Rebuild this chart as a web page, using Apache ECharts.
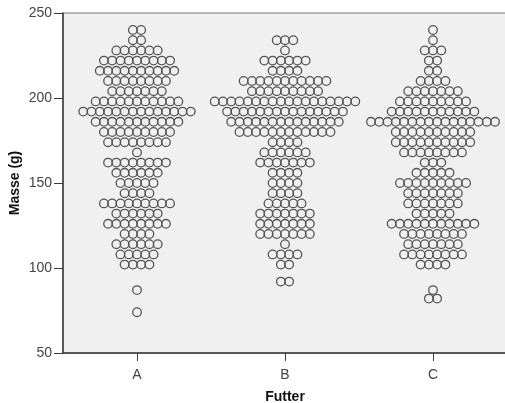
<!DOCTYPE html>
<html>
<head>
<meta charset="utf-8">
<script src="https://cdn.jsdelivr.net/npm/echarts@6/dist/echarts.min.js"></script>
<style>
  html, body { margin: 0; padding: 0; background: #ffffff; }
  #chart { width: 505px; height: 403px; }
</style>
</head>
<body>
<div id="chart"></div>
<script>
// Dot plot of body mass (g) per feed group: each row is a bin value with its dot count.
const categories = ['A', 'B', 'C'];
const yTicks = [50, 100, 150, 200, 250];

const massA  = [240, 234, 228, 222, 216, 210, 204, 198, 192, 186, 180, 174, 168, 162, 156, 150, 144, 138, 132, 126, 120, 114, 108, 102, 87, 74];
const countA = [  2,   2,   6,   9,  10,   8,   7,  11,  14,  11,   9,   8,   1,   8,   6,   5,   4,   9,   6,   8,   4,   6,   5,   4,  1,  1];

const massB  = [234, 228, 222, 216, 210, 204, 198, 192, 186, 180, 174, 168, 162, 156, 150, 144, 138, 132, 126, 120, 114, 108, 102, 92];
const countB = [  3,   1,   6,   4,  11,   9,  18,  15,  14,  12,   4,   6,   7,   4,   4,   4,   5,   7,   7,   7,   1,   4,   2,  2];

const massC  = [240, 234, 228, 222, 216, 210, 204, 198, 192, 186, 180, 174, 168, 162, 156, 150, 144, 138, 132, 126, 120, 114, 108, 102, 87, 82];
const countC = [  1,   1,   3,   2,   2,   4,   7,   9,  11,  16,  10,  10,   8,   3,   5,   9,   7,   7,   5,  11,   8,   7,   8,   4,  1,  2];

const DOT_STEP = 8.27;   // horizontal pitch of dots within a row (px)
const FONT = 'Liberation Sans, Arial, sans-serif';

function buildDots(catIndex, masses, counts) {
  const out = [];
  masses.forEach((m, i) => {
    const n = counts[i];
    for (let k = 0; k < n; k++) {
      out.push({
        value: [catIndex, m],
        symbolOffset: [(k - (n - 1) / 2) * DOT_STEP, 0]
      });
    }
  });
  return out;
}

const dots = [].concat(
  buildDots(0, massA, countA),
  buildDots(1, massB, countB),
  buildDots(2, massC, countC)
);

const chart = echarts.init(document.getElementById('chart'), null, { renderer: 'canvas' });
chart.setOption({
  animation: false,
  backgroundColor: '#ffffff',
  grid: {
    left: 63, top: 13, width: 444, height: 340,
    outerBoundsMode: 'none',
    containLabel: false,
    show: true,
    backgroundColor: '#f0f0f0',
    borderColor: '#7a7a7a',
    borderWidth: 1
  },
  xAxis: {
    type: 'category',
    data: categories,
    boundaryGap: true,
    name: 'Futter',
    nameLocation: 'middle',
    nameGap: 37,
    nameMoveOverlap: false,
    nameTextStyle: { fontFamily: FONT, fontSize: 14, fontWeight: 'bold', color: '#111' },
    axisLine: { show: true, lineStyle: { color: '#3a3a3a', width: 1.5 } },
    axisTick: { show: true, alignWithLabel: true, length: 8, lineStyle: { color: '#3a3a3a', width: 1 } },
    axisLabel: { margin: 15, fontFamily: FONT, fontSize: 14, color: '#444' },
    splitLine: { show: false }
  },
  yAxis: {
    type: 'value',
    min: yTicks[0],
    max: yTicks[yTicks.length - 1],
    interval: 50,
    name: 'Masse (g)',
    nameLocation: 'middle',
    nameRotate: 90,
    nameGap: 41,
    nameMoveOverlap: false,
    nameTextStyle: { fontFamily: FONT, fontSize: 14, fontWeight: 'bold', color: '#111' },
    axisLine: { show: true, lineStyle: { color: '#3a3a3a', width: 1.5 } },
    axisTick: { show: true, length: 9, lineStyle: { color: '#3a3a3a', width: 1 } },
    axisLabel: { margin: 11, fontFamily: FONT, fontSize: 14, color: '#444' },
    splitLine: { show: false }
  },
  series: [{
    type: 'scatter',
    data: dots,
    symbol: 'circle',
    symbolSize: 8.6,
    itemStyle: {
      color: 'rgba(0,0,0,0)',
      borderColor: '#555555',
      borderWidth: 1.3,
      opacity: 1
    },
    emphasis: { disabled: true }
  }]
});
</script>
</body>
</html>
